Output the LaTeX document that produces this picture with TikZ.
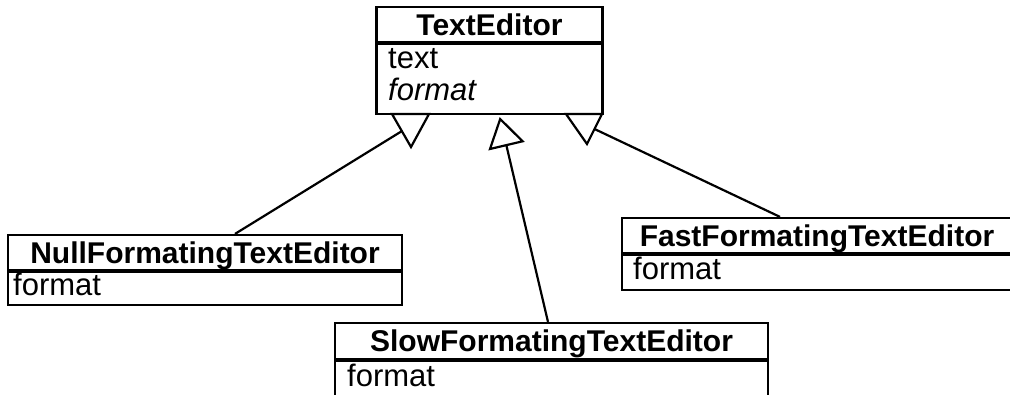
\documentclass[tikz,border=0pt]{standalone}
\usepackage{fontspec}
\setmainfont{Liberation Sans}
\usetikzlibrary{arrows.meta}

\tikzset{
  umlline/.style={line width=2.2pt},
  classname/.style={draw, line width=2.2pt, inner sep=0pt, font=\fontsize{30}{32}\selectfont\bfseries, text height=21.5pt, text depth=0pt},
  classbody/.style={draw, line width=2.2pt, inner sep=0pt, anchor=north},
  attrib/.style={inner sep=0pt, anchor=base west, font=\fontsize{31}{33}\selectfont},
}

\begin{document}
\begin{tikzpicture}[x=1pt,y=-1pt]
\useasboundingbox (0,0) rectangle (1010,394);
\clip (0,0) rectangle (1010,394);
% Drawing classes
% Class 1: TextEditor
\node[classname, minimum width=226pt, minimum height=35pt] (te) at (489.5,24.5) {TextEditor};
\node[classbody, minimum width=226pt, minimum height=70pt] (teb) at (te.south) {};
\node[attrib] (te1) at (388,68) {text};
\node[attrib] (te2) at (388,100) {\itshape format};
% Class 2: NullFormatingTextEditor
\node[classname, minimum width=394pt, minimum height=35pt] (nul) at (205,252.5) {NullFormatingTextEditor};
\node[classbody, minimum width=394pt, minimum height=33pt] (nulb) at (nul.south) {};
\node[attrib] (nul1) at (13,295) {format};
% Class 3: FastFormatingTextEditor
\node[classname, minimum width=390pt, minimum height=35pt] (fst) at (817,235.5) {FastFormatingTextEditor};
\node[classbody, minimum width=390pt, minimum height=35pt] (fstb) at (fst.south) {};
\node[attrib] (fst1) at (633,279) {format};
% Class 4: SlowFormatingTextEditor
\node[classname, minimum width=433pt, minimum height=36pt] (slo) at (551.5,341) {SlowFormatingTextEditor};
\node[classbody, minimum width=433pt, minimum height=40pt] (slob) at (slo.south) {};
\node[attrib] (slo1) at (347,386) {format};
% Done with classes; drawing generalizations
% Line 1: NullFormatingTextEditor -> TextEditor
\coordinate (nulend) at (402,131);
\draw[umlline] ([xshift=30pt]nul.north) -- (nulend);
\draw[umlline] (392,114) -- (429,114) -- (411,147) -- cycle;
% Line 2: SlowFormatingTextEditor -> TextEditor
\coordinate (slotip) at (499.7,117);
\draw[umlline, -{Triangle[open, length=30pt, width=37pt]}] ([xshift=-3.5pt]slo.north) -- (slotip);
% Line 3: FastFormatingTextEditor -> TextEditor
\coordinate (fstend) at (594.5,129);
\draw[umlline] ([xshift=-37pt]fst.north) -- (fstend);
\draw[umlline] (566,114) -- (602,114) -- (587,144) -- cycle;
% Done with generalizations
\end{tikzpicture}
\end{document}
